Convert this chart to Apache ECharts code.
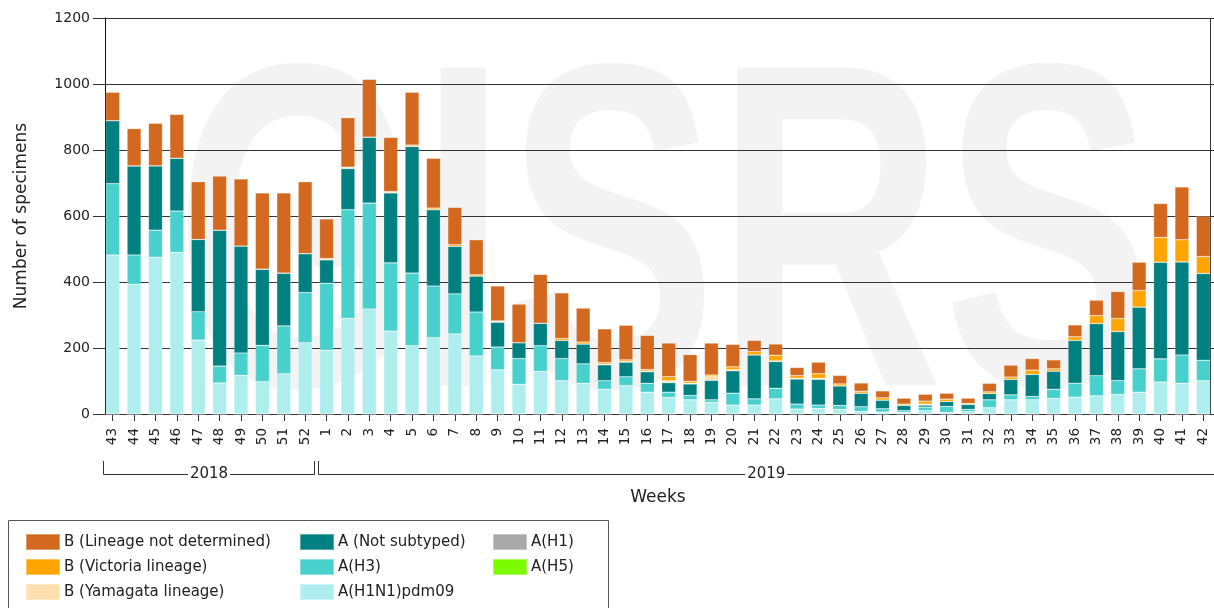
<!DOCTYPE html>
<html>
<head>
<meta charset="utf-8">
<script src="https://cdn.jsdelivr.net/npm/echarts@6/dist/echarts.min.js"></script>
<style>
html,body{margin:0;padding:0;background:#fff;}
#c{width:1214px;height:608px;}
</style>
</head>
<body>
<div id="c"></div>
<script>
// ---- data ----
const weeks = ['43','44','45','46','47','48','49','50','51','52',
  '1','2','3','4','5','6','7','8','9','10',
  '11','12','13','14','15','16','17','18','19','20',
  '21','22','23','24','25','26','27','28','29','30',
  '31','32','33','34','35','36','37','38','39','40','41','42'];

const yearGroups = [
  { label: '2018', from: '43', to: '52' },
  { label: '2019', from: '1', to: '42' }
];

const yMin = 0, yMax = 1200, yStep = 200;

const aH1N1pdm09 = [482,393,475,490,224,94,117,98,122,216,
  193,290,318,251,207,231,243,176,134,90,
  129,101,93,75,86,66,50,43,35,27,
  27,46,15,17,14,8,6,5,10,5,
  7,19,43,43,47,51,55,59,66,97,93,101];

const aH3 = [216,89,82,125,86,51,68,110,145,152,
  203,329,321,207,220,157,121,133,69,78,
  78,67,59,26,27,27,16,13,8,36,
  19,32,15,10,12,14,10,5,11,18,
  7,24,15,10,28,42,61,42,71,70,86,62];

const aNotSubtyped = [191,270,195,160,219,412,324,231,160,118,
  71,125,200,212,384,231,144,109,75,48,
  68,55,60,48,44,35,29,35,59,68,
  133,81,76,78,59,41,26,16,6,15,
  15,19,47,67,55,130,158,149,187,293,282,263];

const bYamagata = [0,0,0,0,0,0,0,0,0,0,
  4,4,0,4,0,0,0,0,4,0,
  0,0,0,2,2,2,6,2,11,3,
  0,2,2,3,0,0,0,0,3,0,
  0,0,0,0,0,0,0,0,0,0,0,0];

const bVictoria = [0,0,0,0,0,0,0,0,0,0,
  0,0,0,0,4,5,5,4,0,0,
  0,6,6,5,5,5,12,6,5,9,
  10,17,8,14,6,6,7,4,9,7,
  3,5,7,13,7,11,24,39,50,75,67,51];

const bLineageNotDetermined = [86,113,129,133,175,164,203,231,243,218,
  120,150,175,164,160,151,113,106,106,117,
  148,138,103,102,105,103,102,81,97,68,
  34,34,25,35,26,25,21,18,21,18,
  16,26,36,35,27,36,47,82,86,103,160,122];

const aH1 = [0,0,0,0,0,0,0,0,0,0,0,0,0,0,0,0,0,0,0,0,0,0,0,0,0,0,
  0,0,0,0,0,0,0,0,0,0,0,0,0,0,0,0,0,0,0,0,0,0,0,0,0,0];
const aH5 = [0,0,0,0,0,0,0,0,0,0,0,0,0,0,0,0,0,0,0,0,0,0,0,0,0,0,
  0,0,0,0,0,0,0,0,0,0,0,0,0,0,0,0,0,0,0,0,0,0,0,0,0,0];

// ---- series definitions (bottom of stack first) ----
const seriesDefs = [
  { name: 'A(H5)', data: aH5, color: '#7CFC00' },
  { name: 'A(H1)', data: aH1, color: '#A9A9A9' },
  { name: 'A(H1N1)pdm09', data: aH1N1pdm09, color: '#AFEEEE' },
  { name: 'A(H3)', data: aH3, color: '#48D1CC' },
  { name: 'A (Not subtyped)', data: aNotSubtyped, color: '#008080' },
  { name: 'B (Yamagata lineage)', data: bYamagata, color: '#FFDEAD' },
  { name: 'B (Victoria lineage)', data: bVictoria, color: '#FFA500' },
  { name: 'B (Lineage not determined)', data: bLineageNotDetermined, color: '#D2691E' }
];

const legendCols = [
  ['B (Lineage not determined)', 'B (Victoria lineage)', 'B (Yamagata lineage)'],
  ['A (Not subtyped)', 'A(H3)', 'A(H1N1)pdm09'],
  ['A(H1)', 'A(H5)']
];

const FONT = 'DejaVu Sans';
const TXT = '#222';

const chart = echarts.init(document.getElementById('c'), null, { renderer: 'canvas' });

const legendLeft = [25, 299, 492];
const option = {
  backgroundColor: '#ffffff',
  animation: false,
  grid: { left: 102, right: 0, top: 18, bottom: 194, containLabel: false },
  xAxis: {
    type: 'category',
    data: weeks,
    name: 'Weeks',
    nameLocation: 'middle',
    nameGap: 75,
    nameTextStyle: { fontFamily: FONT, fontSize: 17, color: TXT },
    axisLine: { show: true, lineStyle: { color: '#333', width: 1 } },
    axisTick: { show: true, alignWithLabel: true, length: 7, lineStyle: { color: '#333' } },
    axisLabel: { interval: 0, rotate: 90, margin: 14, fontFamily: FONT, fontSize: 13.5, color: TXT },
    splitLine: { show: false }
  },
  yAxis: {
    type: 'value',
    min: yMin, max: yMax, interval: yStep,
    offset: -3,
    name: 'Number of specimens',
    nameLocation: 'middle',
    nameRotate: 90,
    nameGap: 75,
    nameTextStyle: { fontFamily: FONT, fontSize: 17, color: TXT },
    axisLine: { show: true, lineStyle: { color: '#111', width: 1 } },
    axisTick: { show: true, length: 12, lineStyle: { color: '#333' } },
    axisLabel: { margin: 15, fontFamily: FONT, fontSize: 14, color: TXT, formatter: v => String(v) },
    splitLine: { show: true, lineStyle: { color: '#333', width: 1 } }
  },
  legend: legendCols.map((col, i) => ({
    data: col,
    orient: 'vertical',
    left: legendLeft[i],
    top: 533,
    padding: 0,
    itemWidth: 34,
    itemHeight: 16,
    itemGap: 7,
    icon: 'rect',
    selectedMode: false,
    textStyle: { fontFamily: FONT, fontSize: 15, color: TXT, padding: [0, 0, 0, -1] }
  })),
  series: seriesDefs.map(s => ({
    name: s.name,
    type: 'bar',
    stack: 'total',
    data: s.data,
    barWidth: 14,
    itemStyle: { color: s.color, borderColor: 'rgba(255,255,255,0.35)', borderWidth: 0.6 },
    emphasis: { disabled: true }
  }))
};
chart.setOption(option);

// ---- annotations derived from the axis scale ----
const idx = w => weeks.indexOf(w);
const px = i => chart.convertToPixel({ xAxisIndex: 0 }, i);
const band = px(1) - px(0);
const yBracketTop = 461, yBracket = 474;
const elements = [];

elements.push({
  type: 'text', z: -10, silent: true,
  x: 664, y: 258, scaleX: 0.68, scaleY: 1,
  style: { text: 'GISRS', x: 0, y: 0, textAlign: 'center', textVerticalAlign: 'middle',
    font: 'bold 462px "Liberation Sans"', fill: '#f3f3f3' }
});

yearGroups.forEach((g, k) => {
  const last = k === yearGroups.length - 1;
  const x1 = Math.round(px(idx(g.from)) - band / 2 + (k === 0 ? 0.5 : 2)) + 0.5;
  const x2 = Math.round(px(idx(g.to)) + band / 2 + (last ? 4 : -2)) + 0.5;
  elements.push({
    type: 'polyline', silent: true,
    shape: { points: [[x1, yBracketTop], [x1, yBracket + 0.5], [x2, yBracket + 0.5], [x2, yBracketTop]] },
    style: { stroke: '#333', lineWidth: 1, fill: null }
  });
  elements.push({
    type: 'text', silent: true,
    style: { text: g.label, x: (x1 + Math.min(x2, 1214)) / 2, y: yBracket, textAlign: 'center', textVerticalAlign: 'middle',
      fontFamily: FONT, fontSize: 15, fill: TXT, backgroundColor: '#fff', padding: [0, 2] }
  });
});

// right frame of the plot area
const gridRect = chart.getModel().getComponent('grid').coordinateSystem.getRect();
elements.push({
  type: 'line', silent: true,
  shape: { x1: 1210.5, y1: gridRect.y, x2: 1210.5, y2: gridRect.y + gridRect.height },
  style: { stroke: '#333', lineWidth: 1 }
});

// legend box
elements.push({
  type: 'rect', silent: true, z: -5,
  shape: { x: 8.5, y: 520.5, width: 600, height: 100 },
  style: { fill: null, stroke: '#555', lineWidth: 1 }
});

chart.setOption({ graphic: { elements: elements } });
</script>
</body>
</html>
